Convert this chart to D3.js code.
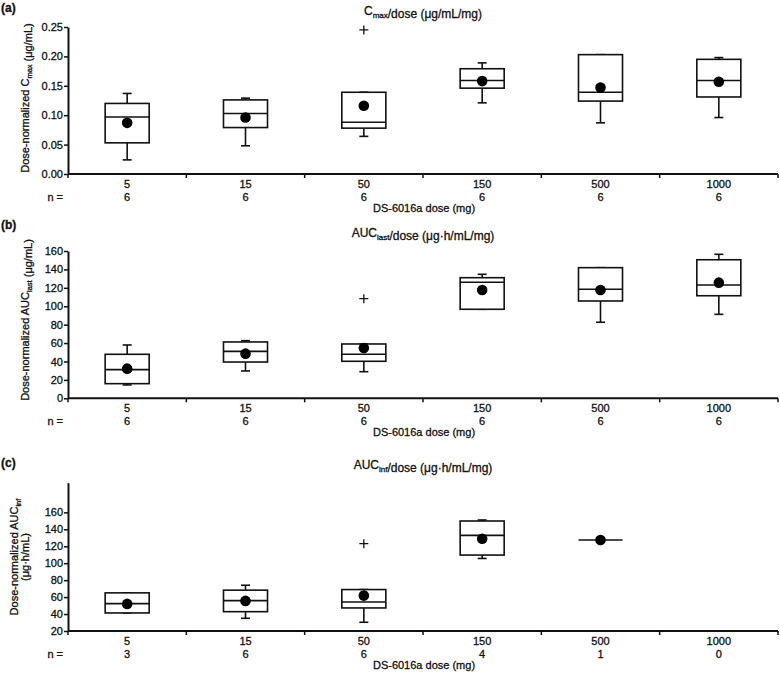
<!DOCTYPE html>
<html><head><meta charset="utf-8">
<script src="https://cdn.jsdelivr.net/npm/d3@7"></script>
<style>
body{margin:0;background:#fff;}
text{font-family:"Liberation Sans",Arial,sans-serif;fill:#111;stroke:#111;stroke-width:0.3px;}
</style></head>
<body><svg id="c" width="780" height="673"></svg>
<script>
// ---------- data ----------
const categories = ["5","15","50","150","500","1000"];
const nAB = [6,6,6,6,6,6];
const nC  = [3,6,6,4,1,0];

// Panel (a) Cmax/dose
const cmaxQ1   = [0.053,0.079,0.078,0.146,0.124,0.131];
const cmaxMed  = [0.097,0.103,0.088,0.159,0.139,0.159];
const cmaxQ3   = [0.120,0.126,0.139,0.179,0.203,0.195];
const cmaxLo   = [0.024,0.048,0.064,0.121,0.087,0.096];
const cmaxHi   = [0.137,0.129,0.139,0.189,0.203,0.198];
const cmaxMean = [0.087,0.096,0.116,0.158,0.147,0.157];
const cmaxOut  = [[],[],[0.245],[],[],[]];
const cmaxTicks = [0,0.05,0.10,0.15,0.20,0.25];

// Panel (b) AUClast/dose
const auclQ1   = [15.9,39.4,40.2,96.7,105.7,111.4];
const auclMed  = [31.1,51.0,47.8,126.0,118.4,123.1];
const auclQ3   = [47.8,61.2,59.0,131.0,141.9,150.5];
const auclLo   = [14.5,29.7,28.9,96.7,82.6,91.2];
const auclHi   = [57.9,62.6,59.0,134.7,141.9,156.4];
const auclMean = [32.2,48.5,54.6,117.6,117.6,125.6];
const auclOut  = [[],[],[108.2],[],[],[]];
const auclTicks = [0,20,40,60,80,100,120,140,160];

// Panel (c) AUCinf/dose
const auciQ1   = [41.3,42.8,47.2,109.6,127.3,null];
const auciMed  = [52.3,55.9,54.3,132.8,127.3,null];
const auciQ3   = [65.0,68.2,68.9,149.8,127.3,null];
const auciLo   = [41.3,35.0,30.3,105.6,127.3,null];
const auciHi   = [65.0,74.0,68.9,151.0,127.3,null];
const auciMean = [52.0,55.5,61.8,128.9,127.3,null];
const auciOut  = [[],[],[123.0],[],[],[]];
const aucinfTicks = [20,40,60,80,100,120,140,160];

// ---------- drawing ----------
const svg = d3.select("#c");
const X0 = 68, X1 = 778;
const x = d3.scaleBand().domain(categories).range([X0, X1]).padding(0);

function sub(sel, parts, size){
  parts.forEach(p=>{
    if (p.s) { sel.append("tspan").attr("font-size", size).attr("dy", 3).text(p.t);
               sel.append("tspan").attr("dy", -3).text(""); }
    else sel.append("tspan").text(p.t);
  });
}

function panel(cfg){
  const y = d3.scaleLinear().domain(cfg.domain).range([cfg.bottom, cfg.top]);
  const g = svg.append("g");

  // panel letter
  g.append("text").attr("x", 1).attr("y", cfg.letterY).attr("font-size", 12)
    .attr("font-weight", "bold").text(cfg.letter);

  // title
  const t = g.append("text").attr("x", 423).attr("y", cfg.titleY)
    .attr("text-anchor", "middle").attr("font-size", 12);
  sub(t, cfg.title, 8);

  // y axis
  const ya = g.append("g").attr("transform", `translate(${X0},0)`)
    .call(d3.axisLeft(y).tickValues(cfg.ticks).tickFormat(cfg.fmt).tickSize(4).tickSizeOuter(0));
  ya.select(".domain").attr("stroke", "#111").attr("stroke-width", 2);
  ya.selectAll(".tick line").attr("stroke", "#111").attr("stroke-width", 1.5);
  ya.selectAll(".tick text").attr("font-size", 11).attr("x", -5)
    .style("font-family", '"Liberation Sans",Arial,sans-serif').attr("fill", "#111");

  // x axis line with ticks at band boundaries
  g.append("line").attr("x1", X0).attr("x2", X1).attr("y1", cfg.bottom).attr("y2", cfg.bottom)
    .attr("stroke", "#111").attr("stroke-width", 2);
  const bounds = categories.map(c => x(c)).concat([X1]);
  g.selectAll(".xt").data(bounds).join("line")
    .attr("x1", d => d).attr("x2", d => d)
    .attr("y1", cfg.bottom).attr("y2", cfg.bottom + 4)
    .attr("stroke", "#111").attr("stroke-width", 1.5);

  // category labels and n
  g.selectAll(".cl").data(categories).join("text")
    .attr("x", d => x(d) + x.bandwidth()/2).attr("y", cfg.bottom + 14)
    .attr("text-anchor", "middle").attr("font-size", 11).text(d => d);
  g.append("text").attr("x", 63).attr("y", cfg.bottom + 27).attr("text-anchor", "end")
    .attr("font-size", 11).text("n =");
  g.selectAll(".nl").data(cfg.n).join("text")
    .attr("x", (d,i) => x(categories[i]) + x.bandwidth()/2).attr("y", cfg.bottom + 27)
    .attr("text-anchor", "middle").attr("font-size", 11).text(d => d);
  g.append("text").attr("x", 424).attr("y", cfg.bottom + 38).attr("text-anchor", "middle")
    .attr("font-size", 11).text("DS-6016a dose (mg)");

  // y label
  cfg.ylab.forEach((parts, li) => {
    const yt = g.append("text")
      .attr("transform", `translate(${cfg.ylabX[li]},${cfg.ylabY}) rotate(-90)`)
      .attr("text-anchor", "middle").attr("font-size", 11);
    sub(yt, parts, 7.5);
  });

  // boxes
  const bw = x.bandwidth() * 0.372, cw = 9;
  categories.forEach((c, i) => {
    if (cfg.q1[i] == null) return;
    const cx = x(c) + x.bandwidth()/2;
    const bg = g.append("g").attr("stroke", "#111").attr("fill", "none").attr("stroke-width", 1.6);
    // whiskers
    bg.append("line").attr("x1", cx).attr("x2", cx).attr("y1", y(cfg.q3[i])).attr("y2", y(cfg.hi[i]));
    bg.append("line").attr("x1", cx).attr("x2", cx).attr("y1", y(cfg.q1[i])).attr("y2", y(cfg.lo[i]));
    bg.append("line").attr("x1", cx - cw/2).attr("x2", cx + cw/2).attr("y1", y(cfg.hi[i])).attr("y2", y(cfg.hi[i]));
    bg.append("line").attr("x1", cx - cw/2).attr("x2", cx + cw/2).attr("y1", y(cfg.lo[i])).attr("y2", y(cfg.lo[i]));
    // box
    bg.append("rect").attr("x", cx - bw/2).attr("width", bw)
      .attr("y", y(cfg.q3[i])).attr("height", Math.max(0, y(cfg.q1[i]) - y(cfg.q3[i])))
      .attr("fill", "#fff");
    bg.append("line").attr("x1", cx - bw/2).attr("x2", cx + bw/2)
      .attr("y1", y(cfg.med[i])).attr("y2", y(cfg.med[i]));
    // mean
    g.append("circle").attr("cx", cx).attr("cy", y(cfg.mean[i])).attr("r", 5.3).attr("fill", "#000");
    // outliers
    cfg.out[i].forEach(v => {
      g.append("path").attr("d", `M${cx-4.5},${y(v)}h9M${cx},${y(v)-4.5}v9`)
        .attr("stroke", "#111").attr("stroke-width", 1.3);
    });
  });
}

panel({
  letter: "(a)", letterY: 12, titleY: 15,
  title: [{t:"C"},{t:"max",s:1},{t:"/dose (μg/mL/mg)"}],
  domain: [0, 0.25], top: 27, bottom: 174, ticks: cmaxTicks, fmt: d3.format(".2f"),
  q1: cmaxQ1, med: cmaxMed, q3: cmaxQ3, lo: cmaxLo, hi: cmaxHi, mean: cmaxMean, out: cmaxOut,
  n: nAB,
  ylab: [[{t:"Dose-normalized C"},{t:"max",s:1},{t:" (μg/mL)"}]], ylabX: [29], ylabY: 98
});
panel({
  letter: "(b)", letterY: 229, titleY: 237,
  title: [{t:"AUC"},{t:"last",s:1},{t:"/dose (μg·h/mL/mg)"}],
  domain: [0, 160], top: 251, bottom: 398.3, ticks: auclTicks, fmt: d3.format("d"),
  q1: auclQ1, med: auclMed, q3: auclQ3, lo: auclLo, hi: auclHi, mean: auclMean, out: auclOut,
  n: nAB,
  ylab: [[{t:"Dose-normalized AUC"},{t:"last",s:1},{t:" (μg/mL)"}]], ylabX: [29], ylabY: 320
});
panel({
  letter: "(c)", letterY: 467, titleY: 469,
  title: [{t:"AUC"},{t:"inf",s:1},{t:"/dose (μg·h/mL/mg)"}],
  domain: [20, 195], top: 482.7, bottom: 631, ticks: aucinfTicks, fmt: d3.format("d"),
  q1: auciQ1, med: auciMed, q3: auciQ3, lo: auciLo, hi: auciHi, mean: auciMean, out: auciOut,
  n: nC,
  ylab: [[{t:"Dose-normalized AUC"},{t:"inf",s:1}], [{t:"(μg·h/mL)"}]], ylabX: [18, 29], ylabY: 557
});
</script></body></html>
